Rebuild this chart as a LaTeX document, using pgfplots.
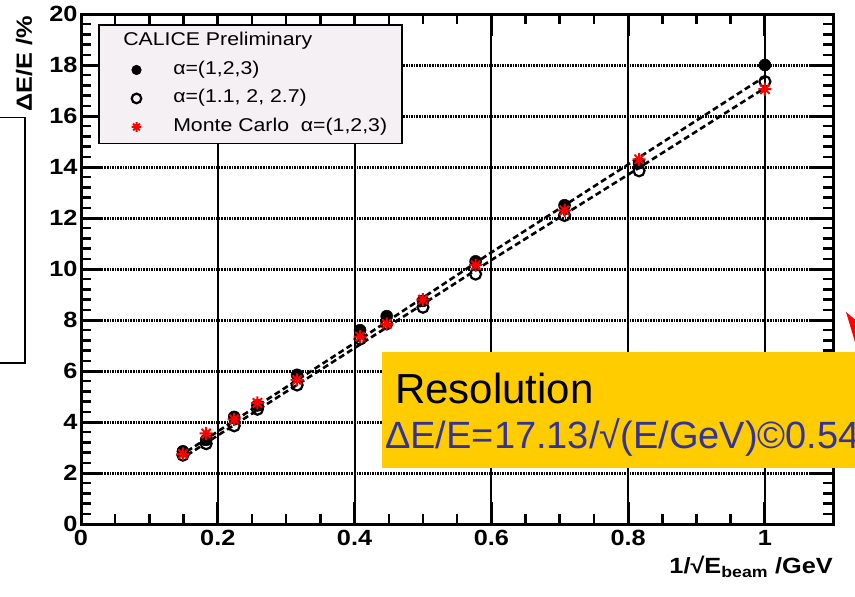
\documentclass[border=0pt]{standalone}
\usepackage{pgfplots}
\pgfplotsset{compat=1.18}
\usepackage{fontspec}
\setmainfont{Liberation Sans}
\newfontfamily\chartfont[FakeStretch=1.15]{Liberation Sans}
\definecolor{legfill}{RGB}{244,240,243}
\definecolor{slideyellow}{RGB}{255,204,0}
\definecolor{slideblue}{RGB}{51,51,153}

\pgfdeclareplotmark{rootstar}{%
 \pgfpathmoveto{\pgfqpoint{-\pgfplotmarksize}{0pt}}\pgfpathlineto{\pgfqpoint{\pgfplotmarksize}{0pt}}%
 \pgfpathmoveto{\pgfqpoint{0pt}{-\pgfplotmarksize}}\pgfpathlineto{\pgfqpoint{0pt}{\pgfplotmarksize}}%
 \pgfpathmoveto{\pgfqpoint{-0.707\pgfplotmarksize}{-0.707\pgfplotmarksize}}\pgfpathlineto{\pgfqpoint{0.707\pgfplotmarksize}{0.707\pgfplotmarksize}}%
 \pgfpathmoveto{\pgfqpoint{-0.707\pgfplotmarksize}{0.707\pgfplotmarksize}}\pgfpathlineto{\pgfqpoint{0.707\pgfplotmarksize}{-0.707\pgfplotmarksize}}%
 \pgfusepathqstroke}

\pgfplotsset{mylegimg/.style={legend image code/.code={\path (0pt,0pt) (58pt,0pt);\draw[mark repeat=2,mark phase=2,##1,mark size=4.8pt] plot coordinates {(0pt,0pt)(24pt,0pt)(58pt,0pt)};}}}

\begin{document}
\begin{tikzpicture}
\begin{axis}[
 at={(81pt,-524pt)}, anchor=south west, scale only axis,
 width=752.3pt, height=510pt,
 xmin=0, xmax=1.1, ymin=0, ymax=20,
 xtick={0,0.2,0.4,0.6,0.8,1}, xticklabels={0,0.2,0.4,0.6,0.8,1},
 ytick={0,2,4,6,8,10,12,14,16,18,20}, yticklabels={0,2,4,6,8,10,12,14,16,18,20},
 minor x tick num=3, minor y tick num=4,
 tick align=inside, tick pos=both, xticklabel pos=bottom, yticklabel pos=left,
 major tick length=22pt, minor tick length=10pt,
 major tick style={black, line width=3pt},
 minor tick style={black, line width=2.5pt},
 axis line style={black, line width=3pt},
 xmajorgrids, ymajorgrids,
 x grid style={black, line width=2pt, solid},
 y grid style={black, line width=3pt, dash pattern=on 1.6pt off 1pt},
 ticklabel style={font=\chartfont\bfseries\fontsize{22}{24}\selectfont},
 xticklabel style={yshift=-3pt},
 legend style={at={(0.0226,0.980)}, anchor=north west, draw=black, line width=1.5pt,
   fill=legfill, font=\chartfont\fontsize{18.5}{20}\selectfont,
   inner xsep=13pt, inner ysep=6pt, row sep=7.5pt,
   nodes={inner sep=2pt, text height=13pt, text depth=4pt}},
 legend cell align=left,
]
\addplot[forget plot, black, line width=2.6pt, dash pattern=on 6pt off 3.5pt] coordinates {(0.155,2.85) (0.4,7.1) (0.6,10.65) (0.8,14.1) (1.0,17.55)};
\addplot[forget plot, black, line width=2.6pt, dash pattern=on 6pt off 3.5pt] coordinates {(0.155,2.7) (0.4,6.9) (0.6,10.35) (0.8,13.7) (1.0,17.1)};
\addlegendimage{empty legend}
\addlegendentry{\hspace*{-50pt}CALICE Preliminary}
\addplot[only marks, mark=*, mark size=6pt, black, mark options={solid, fill=black, line width=0.5pt}, mylegimg] coordinates {
(0.149,2.85) (0.183,3.3) (0.224,4.2) (0.258,4.65) (0.316,5.85) (0.408,7.6)
(0.447,8.15) (0.5,8.75) (0.577,10.3) (0.707,12.5) (0.816,14.15) (1.0,18.0)};
\addlegendentry{α=(1,2,3)}
\addplot[only marks, mark=o, mark size=5.5pt, black, mark options={solid, fill=white, line width=2.2pt}, mylegimg] coordinates {
(0.149,2.7) (0.183,3.15) (0.224,3.85) (0.258,4.5) (0.316,5.45) (0.408,7.25)
(0.447,7.85) (0.5,8.5) (0.577,9.8) (0.707,12.1) (0.816,13.85) (1.0,17.35)};
\addlegendentry{α=(1.1, 2, 2.7)}
\addplot[only marks, mark=rootstar, mark size=6.5pt, red, mark options={solid, line width=2pt}, mylegimg] coordinates {
(0.149,2.75) (0.183,3.55) (0.224,4.1) (0.258,4.75) (0.316,5.65) (0.408,7.35)
(0.447,7.85) (0.5,8.8) (0.577,10.15) (0.707,12.3) (0.816,14.3) (1.0,17.05)};
\addlegendentry{Monte Carlo\ \ α=(1,2,3)}
\end{axis}
% axis titles
\node[rotate=90, anchor=center, inner sep=0, font=\chartfont\bfseries\fontsize{22}{24}\selectfont] at (24pt,-64pt) {ΔE/E /\%};
\node[anchor=base east, inner sep=0, font=\chartfont\bfseries\fontsize{22}{24}\selectfont] at (833pt,-573pt) {1/√E\textsubscript{beam} /GeV};
% slide decorations
\draw[line width=1.5pt] (-2pt,-117.3pt) -- (25pt,-117.3pt) -- (25pt,-363pt) -- (-2pt,-363pt);
\fill[red] (846pt,-312pt) -- (858pt,-322pt) -- (858pt,-352pt) -- cycle;
\fill[slideyellow] (381.7pt,-351.7pt) rectangle (870pt,-467.7pt);
\node[anchor=base west, inner sep=0, font=\fontsize{42}{46}\selectfont] at (395pt,-403pt) {Resolution};
\node[anchor=base west, inner sep=0, text=slideblue, font=\fontsize{38}{40}\selectfont] at (385pt,-448pt) {ΔE/E=17.13/√(E/GeV)©0.54\%};
\pgfresetboundingbox
\useasboundingbox (0,0) rectangle (855pt,-597pt);
\end{tikzpicture}
\end{document}
